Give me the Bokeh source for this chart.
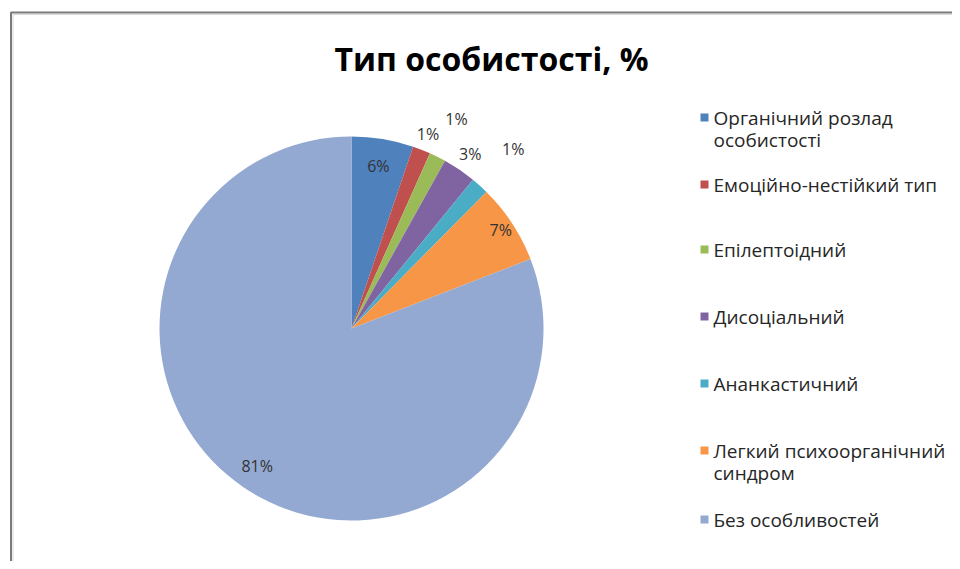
import math
from bokeh.plotting import figure
from bokeh.models import Range1d, ColumnDataSource
from bokeh.core.properties import value
from bokeh.embed import file_html
from bokeh.resources import INLINE

# ---------------- data ----------------
title = "Тип особистості, %"
categories = [
    "Органічний розлад\nособистості",
    "Емоційно-нестійкий тип",
    "Епілептоідний",
    "Дисоціальний",
    "Ананкастичний",
    "Легкий психоорганічний\nсиндром",
    "Без особливостей",
]
shares = [5.2, 1.5, 1.4, 2.8, 1.5, 6.7, 80.9]
pct_labels = ["6%", "1%", "1%", "3%", "1%", "7%", "81%"]

# ---------------- style / layout ----------------
colors = ["#4F81BD", "#C0504D", "#9BBB59", "#8064A2", "#4BACC6", "#F79646", "#93A9D1"]
label_radius = [0.86, 1.09, 1.22, 1.10, 1.26, 0.93, 0.87]
legend_first_line = [117, 184, 249, 316, 383, 450, 519]  # px from top
W, H = 952, 561
FONT = value("Open Sans")


def Y(yc):
    return H - yc


p = figure(width=W, height=H, x_range=Range1d(0, W), y_range=Range1d(0, H),
           output_backend="svg", toolbar_location=None, min_border=0,
           x_axis_type=None, y_axis_type=None)
p.grid.visible = False
p.outline_line_color = None
p.background_fill_color = "white"
p.border_fill_color = "white"

# frame lines (left and top)
p.line(x=[10.5, 10.5, W], y=[0, Y(12), Y(12)], line_color="#7a7a7a", line_width=2)
p.line(x=[12.5, 12.5, W], y=[0, Y(14), Y(14)], line_color="#d8d8d8", line_width=1)

# ---------------- pie ----------------
cx, cy, r = 351, Y(328), 192
total = sum(shares)
starts, ends, mids = [], [], []
cum = 0.0
for v in shares:
    a0 = math.pi / 2 - 2 * math.pi * cum / total
    a1 = math.pi / 2 - 2 * math.pi * (cum + v) / total
    starts.append(a0)
    ends.append(a1)
    mids.append((a0 + a1) / 2)
    cum += v

src = ColumnDataSource(dict(start=starts, end=ends, color=colors))
p.wedge(x=cx, y=cy, radius=r, start_angle="start", end_angle="end",
        direction="clock", fill_color="color", line_color=None, source=src)

lx = [cx + f * r * math.cos(m) for f, m in zip(label_radius, mids)]
ly = [cy + f * r * math.sin(m) for f, m in zip(label_radius, mids)]
p.text(x=lx, y=ly, text=pct_labels, text_font=FONT, text_font_size="16px",
       text_color="#333333", text_align="center", text_baseline="middle")

# ---------------- title ----------------
p.text(x=[491], y=[Y(58)], text=[title], text_font=FONT, text_font_style="bold",
       text_font_size="32px", text_color="#000000", text_align="center",
       text_baseline="middle")

# ---------------- legend ----------------
sq_x, txt_x, line_h = 704, 713, 22
p.rect(x=[sq_x] * len(categories), y=[Y(v) for v in legend_first_line],
       width=8, height=8, fill_color=colors, line_color=None)
tx, ty, tt = [], [], []
for cat, y0 in zip(categories, legend_first_line):
    for k, line in enumerate(cat.split("\n")):
        tx.append(txt_x)
        ty.append(Y(y0 + k * line_h))
        tt.append(line)
p.text(x=tx, y=ty, text=tt, text_font=FONT, text_font_size="19px",
       text_color="#262626", text_align="left", text_baseline="middle")

open("out.html", "w").write(file_html(p, INLINE))
